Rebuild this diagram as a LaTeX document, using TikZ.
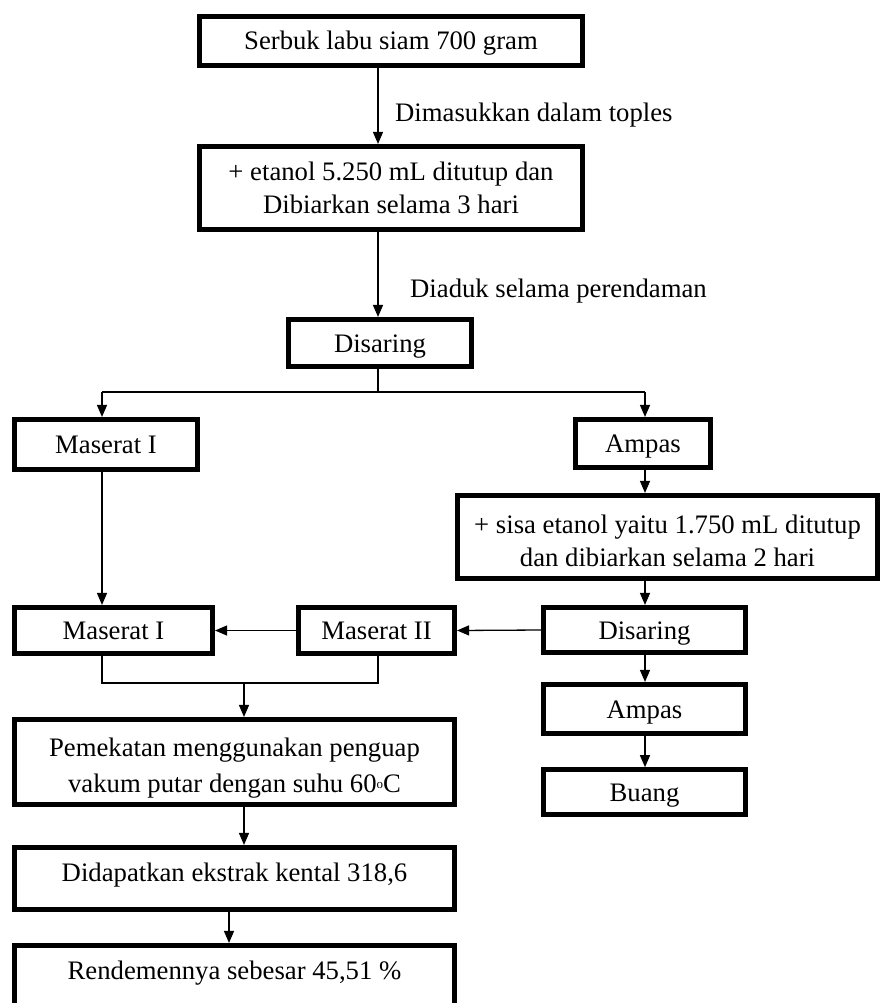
\documentclass[tikz,border=0pt]{standalone}
\usepackage{fontspec}
\setmainfont{Liberation Serif}
\usetikzlibrary{arrows.meta,calc}
\begin{document}
\begin{tikzpicture}[x=1pt,y=-1pt,
  box/.style={draw, line width=4.6pt, inner sep=0pt, align=center, font=\fontsize{26.7}{33}\selectfont},
  one/.style={text height=22pt, text depth=4pt},
  low/.style={text height=22pt, text depth=17pt},
  conn/.style={line width=1.3pt},
  arr/.style={conn, -{Triangle[length=12pt,width=10pt]}},
  lbl/.style={font=\fontsize{26.7}{33}\selectfont, anchor=west, inner sep=0pt, text height=22pt, text depth=4pt}]
\useasboundingbox (0,0) rectangle (880,1003);
\fill[white] (0,0) rectangle (880,1003);

% column coordinates
\coordinate (cA) at (378,0);
\coordinate (cL) at (102,0);
\coordinate (cR) at (645,0);
\coordinate (cM) at (244,0);
\coordinate (cN) at (229,0);

% boxes
\node[box, one, minimum width=383.5pt, minimum height=49.5pt] (b1) at (391,41) {Serbuk labu siam 700 gram};
\node[box, minimum width=383.5pt, minimum height=83.5pt] (b2) at (391,188) {+ etanol 5.250 mL ditutup dan\\Dibiarkan selama 3 hari};
\node[box, one, minimum width=183.5pt, minimum height=47.5pt] (dis1) at (380,343) {Disaring};
\node[box, one, minimum width=183.5pt, minimum height=50.5pt] (mas1a) at (106,444.5) {Maserat I};
\node[box, one, minimum width=135.5pt, minimum height=48.5pt] (amp1) at (643,443.5) {Ampas};
\node[box, minimum width=420.5pt, minimum height=83.5pt] (sisa) at (667.5,537) {\rule{0pt}{26pt}+ sisa etanol yaitu 1.750 mL ditutup\\dan dibiarkan selama 2 hari};
\node[box, one, minimum width=202.5pt, minimum height=45.5pt] (dis2) at (644.5,630) {Disaring};
\node[box, one, minimum width=202.5pt, minimum height=49.5pt] (amp2) at (644.5,709) {Ampas};
\node[box, one, minimum width=202.5pt, minimum height=45pt] (buang) at (644.5,792) {Buang};
\node[box, one, minimum width=198.5pt, minimum height=46.5pt] (mas1b) at (113.5,630.5) {Maserat I};
\node[box, one, minimum width=156.5pt, minimum height=46.5pt] (mas2) at (376.5,630.5) {Maserat II};
\node[box, font=\fontsize{26.7}{36.5}\selectfont, minimum width=440.5pt, minimum height=85.5pt] (pem) at (234.5,762) {\rule{0pt}{31pt}Pemekatan menggunakan penguap\\vakum putar dengan suhu 60\raisebox{0.35ex}{\fontsize{13}{13}\selectfont o}C};
\node[box, low, minimum width=440.5pt, minimum height=62.5pt] (did) at (234.5,878.5) {Didapatkan ekstrak kental 318,6};
\node[box, low, minimum width=440.5pt, minimum height=62.5pt] (ren) at (234.5,976.5) {Rendemennya sebesar 45,51 \%};

% labels
\node[lbl] (l1) at (395,113) {Dimasukkan dalam toples};
\node[lbl] (l2) at (410,288) {Diaduk selama perendaman};

% connectors
\draw[arr] (b1.south -| cA) -- (b2.north -| cA);
\draw[arr] (b2.south -| cA) -- (dis1.north -| cA);

\coordinate (sp) at (378,392);
\coordinate (spL) at (102,392);
\coordinate (spR) at (645,392);
\draw[conn] (dis1.south -| cA) -- (sp);
\draw[conn] (spL) -- (spR);
\draw[arr] (spL) -- (mas1a.north -| cL);
\draw[arr] (spR) -- (amp1.north -| cR);

\draw[arr] (amp1.south -| cR) -- (sisa.north -| cR);
\draw[arr] (sisa.south -| cR) -- (dis2.north -| cR);
\draw[arr] (dis2.south -| cR) -- (amp2.north -| cR);
\draw[arr] (amp2.south -| cR) -- (buang.north -| cR);

\draw[arr] (mas1a.south -| cL) -- (mas1b.north -| cL);
\draw[arr] (dis2.west) -- (mas2.east);
\draw[arr] (mas2.west) -- (mas1b.east);

\coordinate (mL) at (102,683);
\coordinate (mR) at (378,683);
\coordinate (mC) at (244,683);
\draw[conn] (mas1b.south -| cL) -- (mL) -- (mR) -- (mas2.south -| cA);
\draw[arr] (mC) -- (pem.north -| cM);
\draw[arr] (pem.south -| cM) -- (did.north -| cM);
\draw[arr] (did.south -| cN) -- (ren.north -| cN);
\end{tikzpicture}
\end{document}
